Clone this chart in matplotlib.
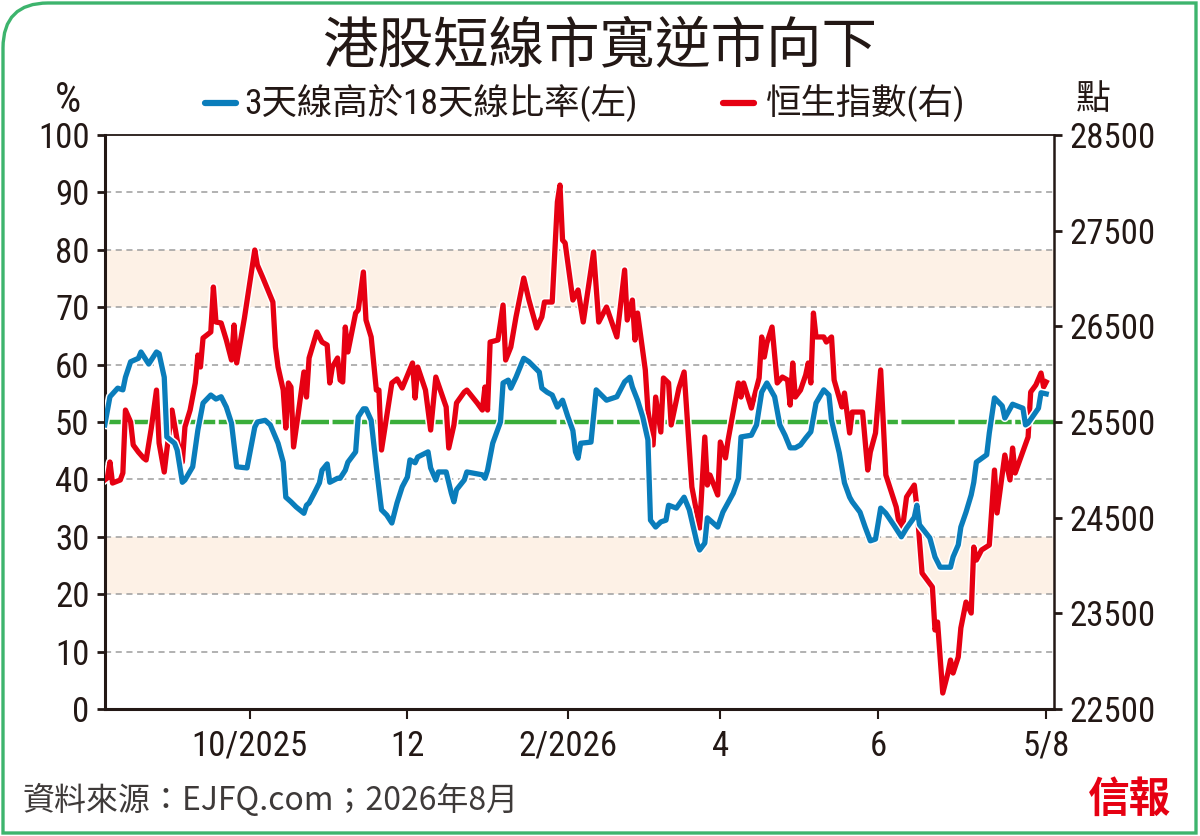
import pandas as pd
import matplotlib
matplotlib.use("Agg")
import matplotlib.pyplot as plt
import matplotlib.patheffects as pe
from matplotlib import font_manager
from matplotlib.lines import Line2D
from matplotlib.path import Path
from matplotlib.patches import PathPatch

# days are counted from 1 Aug 2025
START = pd.Timestamp("2025-08-01")

# 3天線高於18天線比率 (%)
ratio_day = [5, 7, 10, 12, 13, 15, 18, 19, 22, 25,
             26, 28, 29, 32, 33, 35, 36, 39, 41, 43,
             46, 48, 50, 52, 54, 56, 60, 63, 64, 67,
             69, 72, 74, 75, 77, 79, 82, 83, 84, 86,
             88, 89, 91, 92, 95, 96, 98, 99, 102, 103,
             105, 106, 108, 110, 112, 114, 116, 118, 120, 122,
             123, 125, 126, 130, 131, 133, 134, 137, 139, 140,
             141, 144, 145, 151, 152, 153, 155, 158, 159, 161,
             162, 164, 167, 169, 171, 173, 174, 176, 178, 180,
             182, 184, 186, 187, 188, 189, 193, 195, 197, 199,
             203, 206, 208, 209, 211, 213, 215, 216, 218, 220,
             222, 223, 226, 229, 231, 234, 235, 237, 238, 242,
             244, 248, 250, 251, 255, 257, 259, 261, 264, 266,
             268, 270, 272, 274, 276, 278, 280, 283, 285, 286,
             289, 291, 293, 294, 297, 299, 301, 303, 305, 307,
             310, 313, 315, 318, 319, 320, 324, 326, 328, 332,
             333, 335, 336, 338, 340, 341, 342, 346, 347, 349,
             352, 353, 356, 360, 361, 362, 366, 367, 369]
ratio_pct = [49.5, 54.4, 55.9, 55.6, 57.8, 60.5, 61.1, 62.2, 60.1, 62.2,
             61.9, 57.8, 47.4, 46.3, 45.1, 39.5, 39.9, 42.2, 48.6, 53.3,
             54.7, 54.0, 54.4, 52.6, 49.8, 42.2, 42.0, 49.1, 50.0, 50.3,
             49.5, 46.3, 43.0, 36.9, 36.1, 35.2, 34.1, 35.5, 35.9, 37.6,
             39.4, 41.6, 42.7, 39.5, 40.2, 40.2, 41.6, 43.0, 44.8, 50.9,
             52.3, 52.3, 50.3, 42.2, 34.7, 33.8, 32.4, 35.9, 38.7, 40.4,
             43.4, 42.9, 43.9, 44.8, 42.0, 39.9, 41.3, 41.3, 37.6, 36.1,
             38.2, 39.9, 41.3, 40.8, 40.2, 41.6, 46.3, 50.0, 56.8, 57.3,
             55.9, 57.8, 61.1, 60.5, 59.6, 58.7, 55.9, 55.2, 54.7, 52.6,
             53.8, 51.0, 48.5, 44.8, 43.7, 46.3, 46.5, 55.6, 54.7, 53.8,
             54.4, 57.0, 57.8, 56.1, 53.8, 50.9, 46.9, 32.9, 31.7, 32.6,
             32.9, 35.5, 35.0, 36.9, 34.7, 28.9, 27.7, 28.9, 33.3, 31.7,
             34.3, 37.6, 40.2, 47.4, 47.7, 49.5, 55.2, 56.8, 54.4, 49.5,
             47.7, 45.5, 45.5, 46.0, 47.2, 48.3, 53.3, 55.6, 54.7, 50.3,
             44.6, 39.4, 36.9, 36.1, 34.3, 31.7, 29.3, 29.6, 35.0, 34.1,
             32.1, 30.0, 31.5, 33.4, 35.5, 32.1, 29.8, 26.5, 24.7, 24.7,
             26.5, 28.6, 31.7, 34.3, 37.3, 39.5, 43.0, 44.3, 48.1, 54.2,
             52.8, 50.7, 53.1, 52.4, 49.5, 49.8, 52.4, 55.1, 54.9]

# 恒生指數 (點)
hsi_day = [5, 6, 7, 8, 11, 12, 13, 15, 16, 18,
           20, 21, 23, 25, 26, 28, 29, 31, 33, 35,
           36, 38, 40, 41, 42, 43, 46, 47, 48, 50,
           52, 54, 55, 56, 59, 63, 64, 66, 70, 71,
           72, 74, 75, 76, 77, 78, 80, 82, 83, 84,
           87, 89, 91, 92, 93, 95, 96, 97, 98, 99,
           102, 103, 105, 106, 108, 110, 111, 112, 116, 118,
           120, 124, 125, 126, 129, 131, 133, 137, 138, 140,
           141, 144, 145, 149, 151, 152, 153, 154, 157, 159,
           160, 162, 164, 167, 169, 172, 174, 175, 178, 180,
           181, 182, 183, 186, 188, 190, 194, 196, 199, 203,
           206, 207, 209, 210, 211, 214, 215, 217, 218, 220,
           221, 223, 224, 227, 229, 232, 235, 237, 238, 239,
           242, 243, 245, 246, 250, 251, 252, 255, 258, 259,
           260, 261, 263, 265, 267, 269, 270, 271, 272, 274,
           276, 277, 278, 279, 280, 283, 284, 286, 287, 290,
           291, 293, 294, 298, 300, 301, 303, 305, 307, 311,
           313, 315, 318, 319, 321, 325, 326, 327, 329, 331,
           332, 333, 335, 336, 338, 340, 341, 342, 344, 347,
           349, 350, 353, 355, 356, 357, 362, 363, 365, 367,
           368, 369]
hsi_pts = [24894, 24915, 25082, 24862, 24894, 24967, 25625, 25500, 25260, 25186,
           25124, 25103, 25437, 25834, 25280, 24977, 25207, 25625, 25312, 25082,
           25448, 25625, 25908, 26200, 26075, 26378, 26441, 26911, 26545, 26535,
           26357, 26148, 26514, 26117, 26587, 27298, 27141, 27016, 26754, 26284,
           26075, 25834, 25437, 25908, 25866, 25239, 25625, 26023, 25761, 26169,
           26441, 26336, 26305, 25908, 26075, 26169, 25939, 25918, 26493, 26232,
           26639, 26671, 27068, 26566, 26389, 25834, 25834, 25207, 25908, 25950,
           25855, 26117, 25751, 26075, 25834, 25416, 25970, 25657, 25228, 25469,
           25699, 25813, 25834, 25699, 25625, 25866, 25625, 26336, 26357, 26723,
           26148, 26284, 26598, 27005, 26775, 26483, 26598, 26754, 26754, 27800,
           27977, 27402, 27371, 26775, 26880, 26545, 27277, 26545, 26702, 26389,
           27089, 26566, 26775, 26357, 26639, 26044, 25625, 25260, 25761, 25395,
           25960, 25908, 25469, 25855, 26023, 24821, 24392, 25343, 24841, 24946,
           24737, 25291, 25124, 25312, 25908, 25761, 25908, 25646, 25960, 26389,
           26179, 26326, 26493, 25908, 25970, 25939, 25677, 26117, 25761, 25834,
           25991, 26117, 25908, 26639, 26389, 26389, 26336, 26389, 25939, 25657,
           25803, 25385, 25604, 25604, 24998, 25186, 25385, 26044, 24946, 24612,
           24298, 24716, 24841, 24612, 23921, 23775, 23326, 23409, 22667, 22876,
           23012, 22876, 23044, 23347, 23618, 23503, 24193, 24057, 24162, 24214,
           24998, 24549, 25155, 24894, 25228, 24967, 25343, 25813, 25887, 26012,
           25866, 25918]

tick_dates = ["2025-10-01", "2025-12-01", "2026-02-01", "2026-04-01", "2026-06-01", "2026-08-05"]
tick_labels = ["10/2025", "12", "2/2026", "4", "6", "5/8"]
left_ticks = list(range(0, 101, 10))
right_ticks = list(range(22500, 28501, 1000))
bands = [(20, 30), (70, 80)]

assert len(ratio_day) == len(ratio_pct)
assert len(hsi_day) == len(hsi_pts)

ratio_dates = START + pd.to_timedelta(ratio_day, unit="D")
hsi_dates = START + pd.to_timedelta(hsi_day, unit="D")

# a narrow face for the numbers, if one is around
names = {f.name for f in font_manager.fontManager.ttflist}
NUM = "DejaVu Sans"
for cand in ["Roboto Condensed", "Liberation Sans Narrow", "Archivo Narrow",
             "Arial Narrow", "Open Sans Condensed"]:
    if cand in names:
        NUM = cand
        break
CJK = "Noto Sans CJK TC"
plt.rcParams["font.family"] = [NUM, CJK, "DejaVu Sans"]

INK = "#231815"
BLUE = "#0a7dbb"
RED = "#e60012"
GREEN = "#3aae3a"
GRID = "#9d9d9d"

fig = plt.figure(figsize=(12, 8.36), dpi=100)

# green frame with a rounded top-left corner
def fx(x, y):
    return (x / 1200, 1 - y / 836)

verts = [fx(3, 833), fx(3, 48), fx(3, 3), fx(48, 3), fx(1196, 3), fx(1196, 833), fx(3, 833)]
codes = [Path.MOVETO, Path.LINETO, Path.CURVE3, Path.CURVE3, Path.LINETO, Path.LINETO, Path.CLOSEPOLY]
fig.add_artist(PathPatch(Path(verts, codes), transform=fig.transFigure,
                         facecolor="none", edgecolor="#3db46d", lw=2.4))

ax = fig.add_axes([0.0873, 0.1519, 0.7910, 0.6866])
ax2 = ax.twinx()

for lo, hi in bands:
    ax.axhspan(lo, hi, color="#fdf1e6", lw=0, zorder=0)
for v in left_ticks[1:-1]:
    if v != 50:
        ax.axhline(v, color=GRID, lw=1.1, ls=(0, (4, 3)), zorder=1)
ax.axhline(50, color=GREEN, lw=3.2, ls=(0, (12, 0.8)), zorder=2)

outline = [pe.Stroke(linewidth=6.0, foreground="white"), pe.Normal()]
ax2.plot(hsi_dates, hsi_pts, color=RED, lw=3.8, path_effects=outline,
         solid_joinstyle="round", zorder=3)
# blue series uses the left scale but is drawn above the red one
ax2.plot(ratio_dates, ratio_pct, color=BLUE, lw=3.8, path_effects=outline,
         solid_joinstyle="round", transform=ax.transData, zorder=4)

ax.set_xlim(START + pd.Timedelta(days=5), START + pd.Timedelta(days=372))
ax.set_ylim(0, 100)
ax2.set_ylim(22500, 28500)

ax.set_yticks(left_ticks)
ax2.set_yticks(right_ticks)
ax.set_xticks(pd.to_datetime(tick_dates))
ax.set_xticklabels(tick_labels)

for a in (ax, ax2):
    for s in a.spines.values():
        s.set_visible(False)
for side, w in (("left", 2.2), ("bottom", 2.2), ("top", 1.3), ("right", 1.8)):
    ax2.spines[side].set_visible(True)
    ax2.spines[side].set_linewidth(w)
    ax2.spines[side].set_color(INK)

ax.tick_params(axis="y", direction="out", length=6, width=2, pad=5,
               labelsize=25, colors=INK)
ax.tick_params(axis="x", direction="out", length=7, width=1.5, pad=8,
               labelsize=25, colors=INK)
ax2.tick_params(axis="y", direction="out", length=6, width=2, pad=5,
                labelsize=25, colors=INK)

# title, legend and units
fig.text(0.5, 0.944, "港股短線市寬逆市向下", family=[CJK], fontsize=40,
         fontweight="medium", color=INK, ha="center", va="center")

fig.add_artist(Line2D([205 / 1200, 236 / 1200], [1 - 103 / 836] * 2, color=BLUE,
                      lw=4.5, solid_capstyle="round", transform=fig.transFigure))
fig.text(244 / 1200, 1 - 103 / 836, "3天線高於18天線比率(左)", fontsize=25.5,
         color=INK, ha="left", va="center")
fig.add_artist(Line2D([723 / 1200, 754 / 1200], [1 - 103 / 836] * 2, color=RED,
                      lw=4.5, solid_capstyle="round", transform=fig.transFigure))
fig.text(766 / 1200, 1 - 103 / 836, "恒生指數(右)", fontsize=25.5,
         color=INK, ha="left", va="center")

fig.text(68 / 1200, 1 - 100 / 836, "%", fontsize=30, color=INK, ha="center", va="center")
fig.text(1093 / 1200, 1 - 100 / 836, "點", family=[CJK], fontsize=25, color=INK,
         ha="center", va="center")

fig.text(22 / 1200, 1 - 800 / 836, "資料來源：EJFQ.com；2026年8月",
         family=[CJK, "DejaVu Sans"], fontsize=23, fontweight="light",
         color="#3e3a39", ha="left", va="center")
fig.text(1130 / 1200, 1 - 800 / 836, "信報", family=[CJK], fontsize=30,
         fontweight="bold", color=RED, ha="center", va="center")

fig.savefig("out.png", dpi=100)
